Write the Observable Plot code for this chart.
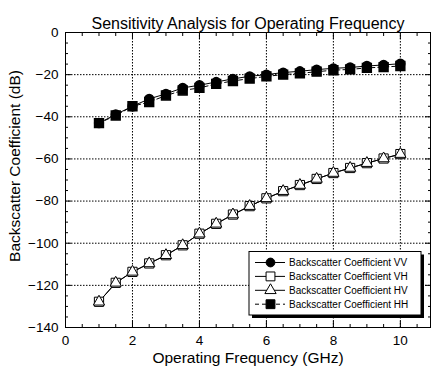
<!DOCTYPE html>
<html><head><meta charset="utf-8">
<script src="https://cdn.jsdelivr.net/npm/d3@7"></script>
<script src="https://cdn.jsdelivr.net/npm/@observablehq/plot@0.6"></script>
<style>
body{margin:0;background:#fff;}
#chart{position:relative;width:432px;height:373px;font-family:"Liberation Sans",Arial,Helvetica,sans-serif;}
</style>
</head><body><div id="chart"></div>
<script>
const title = "Sensitivity Analysis for Operating Frequency";
const xLabel = "Operating Frequency (GHz)";
const yLabel = "Backscatter Coefficient (dB)";
const freq = [1,1.5,2,2.5,3,3.5,4,4.5,5,5.5,6,6.5,7,7.5,8,8.5,9,9.5,10];
const vv = [-43,-38.9,-35,-31.5,-29.1,-26.3,-25,-23.5,-22,-20.8,-20,-19,-18.4,-17.6,-17,-16.6,-15.9,-15.4,-14.8];
const vh = [-127.8,-118.8,-113.6,-109.6,-105.7,-101,-95.5,-90.8,-86.4,-82.4,-78.7,-75.3,-72.4,-69.5,-66.7,-64.3,-62,-59.8,-57.7];
const hv = [-127.8,-118.8,-113.6,-109.6,-105.7,-101,-95.5,-90.8,-86.4,-82.4,-78.7,-75.3,-72.4,-69.5,-66.7,-64.3,-62,-59.8,-57.7];
const hh = [-43,-39.4,-35,-33,-29.9,-27.5,-26.3,-24.4,-23,-21.9,-20.8,-20,-19.4,-18.6,-17.9,-17.5,-16.8,-16.4,-15.9];
const seriesNames = ["Backscatter Coefficient VV","Backscatter Coefficient VH","Backscatter Coefficient HV","Backscatter Coefficient HH"];
const xTicks = [0,2,4,6,8,10];
const yTicks = [0,-20,-40,-60,-80,-100,-120,-140];
const xGrid = [2,4,6,8,10];
const yGrid = [-20,-40,-60,-80,-100,-120];
const xMinor = d3.range(0.5, 10.9, 0.5).filter(v => v % 2 !== 0);
const yMinor = d3.range(-135, 0, 5).filter(v => v % 20 !== 0);

const mk = arr => freq.map((f,i) => ({f, v: arr[i]}));
const dVV = mk(vv), dVH = mk(vh), dHV = mk(hv), dHH = mk(hh);

const font = "Liberation Sans, Arial, Helvetica, sans-serif";
const chart = Plot.plot({
  width: 432, height: 373,
  marginLeft: 65, marginRight: 2, marginTop: 32, marginBottom: 46,
  style: {fontFamily: font, fontSize: "13.5px", color: "black", background: "white"},
  x: {domain: [0, 10.9]},
  y: {domain: [-140, 0]},
  marks: [
    Plot.ruleX(xGrid, {stroke: "black", strokeWidth: 1, strokeDasharray: "1.5,1.5"}),
    Plot.ruleY(yGrid, {stroke: "black", strokeWidth: 1, strokeDasharray: "1.5,1.5"}),
    Plot.axisX(xTicks, {anchor: "bottom", tickSize: -6, tickPadding: 14, label: null, fontSize: 13.5}),
    Plot.axisX(xMinor, {anchor: "bottom", tickSize: -3, text: null, label: null}),
    Plot.axisX(xTicks, {anchor: "top", tickSize: -6, text: null, label: null}),
    Plot.axisX(xMinor, {anchor: "top", tickSize: -3, text: null, label: null}),
    Plot.axisY(yTicks, {anchor: "left", tickSize: -6, tickPadding: 13, label: null, fontSize: 13.5}),
    Plot.axisY(yMinor, {anchor: "left", tickSize: -3, text: null, label: null}),
    Plot.axisY(yTicks, {anchor: "right", tickSize: -6, text: null, label: null}),
    Plot.axisY(yMinor, {anchor: "right", tickSize: -3, text: null, label: null}),
    Plot.line(dVH, {x: "f", y: "v", stroke: "black", strokeWidth: 1}),
    Plot.line(dHV, {x: "f", y: "v", stroke: "black", strokeWidth: 1}),
    Plot.dot(dVH, {x: "f", y: "v", symbol: "square", r: 5.2, fill: "white", stroke: "black", strokeWidth: 1}),
    Plot.dot(dHV, {x: "f", y: "v", symbol: "triangle", r: 4.2, fill: "white", stroke: "black", strokeWidth: 1}),
    Plot.line(dHH, {x: "f", y: "v", stroke: "black", strokeWidth: 1, strokeDasharray: "4,3"}),
    Plot.line(dVV, {x: "f", y: "v", stroke: "black", strokeWidth: 1}),
    Plot.dot(dHH, {x: "f", y: "v", symbol: "square", r: 5, fill: "black", stroke: "black"}),
    Plot.dot(dVV, {x: "f", y: "v", symbol: "circle", r: 4.4, fill: "black", stroke: "black"}),
    Plot.frame({stroke: "black", strokeWidth: 1}),
    Plot.text([title], {frameAnchor: "top", dy: -15, fontSize: 16, fill: "black"}),
    Plot.text([xLabel], {frameAnchor: "bottom", dy: 35, fontSize: 15.5, fill: "black"}),
    Plot.text([yLabel], {frameAnchor: "left", textAnchor: "middle", dx: -50, dy: -14, rotate: -90, fontSize: 15.5, fill: "black"})
  ]
});
document.getElementById("chart").appendChild(chart);

// Legend (boxed, with drop shadow) drawn into the same SVG
const svg = d3.select(chart);
const lg = svg.append("g").attr("font-family", font).attr("font-size", 10).attr("text-anchor", "start");
const bx = 249, by = 251.5, bw = 172, bh = 63.5;
lg.append("rect").attr("x", bx + 3).attr("y", by + 3).attr("width", bw).attr("height", bh).attr("fill", "black");
lg.append("rect").attr("x", bx).attr("y", by).attr("width", bw).attr("height", bh).attr("fill", "white").attr("stroke", "black").attr("stroke-width", 1);
const sym = {
  circle: d3.symbol(d3.symbolCircle, Math.PI * 4.4 * 4.4)(),
  square: d3.symbol(d3.symbolSquare, Math.PI * 5 * 5)(),
  triangle: d3.symbol(d3.symbolTriangle, Math.PI * 4.2 * 4.2)()
};
const legendStyles = [
  {dash: null, shape: "circle", fill: "black"},
  {dash: null, shape: "square", fill: "white"},
  {dash: null, shape: "triangle", fill: "white"},
  {dash: "4,3", shape: "square", fill: "black"}
];
seriesNames.forEach((name, i) => {
  const yy = by + 11 + i * 13.9;
  const st = legendStyles[i];
  const ln = lg.append("line").attr("x1", bx + 6).attr("x2", bx + 36).attr("y1", yy).attr("y2", yy).attr("stroke", "black");
  if (st.dash) ln.attr("stroke-dasharray", st.dash);
  lg.append("path").attr("d", sym[st.shape]).attr("transform", `translate(${bx + 21.5},${yy})`).attr("fill", st.fill).attr("stroke", "black");
  lg.append("text").attr("x", bx + 40).attr("y", yy).attr("dy", "0.35em").attr("fill", "black").text(name);
});
</script>
</body></html>
